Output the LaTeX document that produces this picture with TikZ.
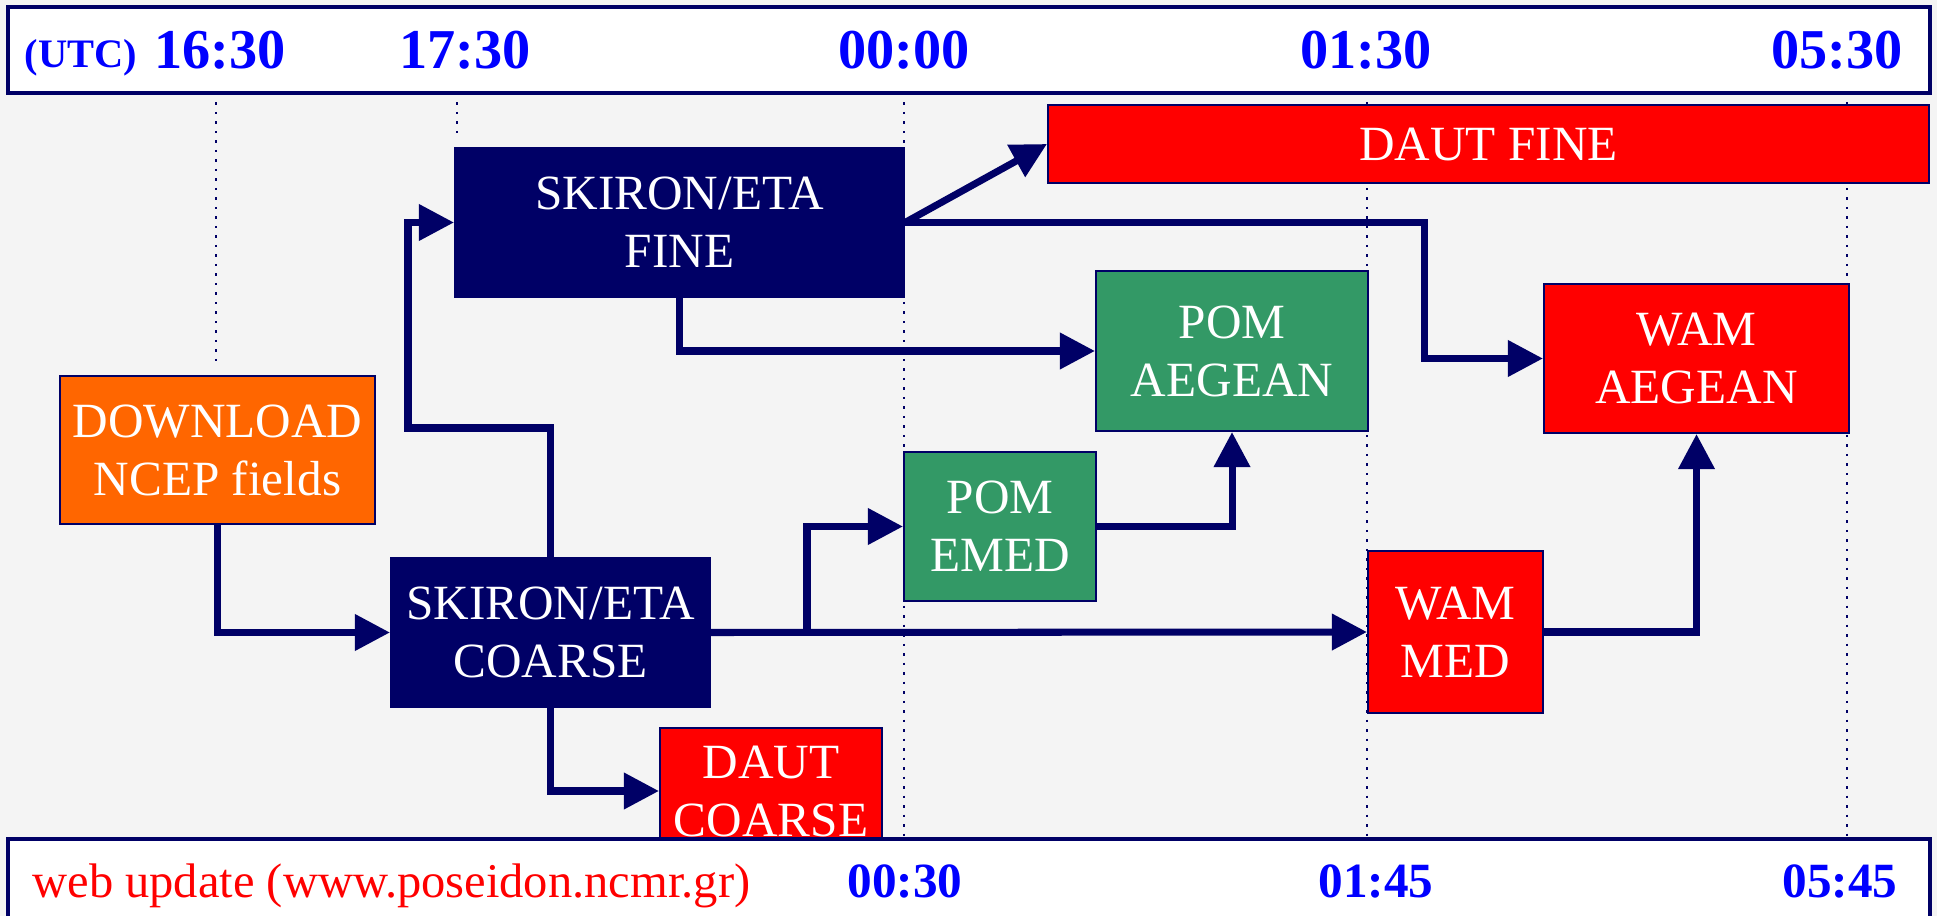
\documentclass[tikz,border=0pt]{standalone}
\usepackage{fontspec}
\setmainfont{Liberation Serif}
\usetikzlibrary{arrows.meta}
\usetikzlibrary{calc}
\definecolor{deepnavy}{HTML}{000066}
\definecolor{boxred}{HTML}{FF0000}
\definecolor{boxgreen}{HTML}{339966}
\definecolor{boxorange}{HTML}{FF6600}
\definecolor{timeblue}{HTML}{0000FF}
\definecolor{panelgray}{HTML}{F4F4F4}
\tikzstyle{box}=[rectangle,draw=deepnavy,line width=0.6pt,text=white,align=center,inner sep=0pt,font=\fontsize{14}{16.5}\selectfont]
\tikzstyle{edge} = [draw,deepnavy,line width=2pt,-{Triangle[length=10pt,width=10pt]}]
\tikzstyle{timeline} = [draw,deepnavy,dotted,line width=0.7pt]
\tikzstyle{hour} = [text=timeblue,anchor=base,font=\bfseries\fontsize{16}{18}\selectfont]
\tikzstyle{webhour} = [text=timeblue,anchor=base,font=\bfseries\fontsize{14}{16}\selectfont]

\begin{document}
\begin{tikzpicture}[x=0.01cm,y=-0.01cm]
\useasboundingbox (0,0) rectangle (1937,916);
\clip (0,0) rectangle (1937,916);
\fill[panelgray] (0,0) rectangle (1937,916);

%time bar
    \path[draw=deepnavy,fill=white,line width=1pt] (8,7) rectangle (1930,93);
    \node[hour,font=\bfseries\fontsize{11.5}{13}\selectfont] (utc) at (81,68) {(UTC)};
    \foreach \x/\t/\n in {{220/16:30/a}, {465/17:30/b}, {904/00:00/c}, {1366/01:30/d}, {1837/05:30/e}}
        \node[hour] (top\n) at (\x,69) {\t};

    \foreach \x/\yend in {216/361, 457/133, 904/840, 1367/840, 1847/840}
        \path[timeline] (\x,93) -- (\x,\yend);

%runs
    \foreach \pos/\name/\w/\h/\label in {{(679.5,222.5)/skfine/449/149/{SKIRON/ETA\\FINE}}, {(550.5,632.5)/skcoarse/319/149/{SKIRON/ETA\\COARSE}}}
        \node[box,fill=deepnavy,minimum width=\w*0.01cm,minimum height=\h*0.01cm] (\name) at \pos {\label};

    \node[box,fill=boxorange,minimum width=315*0.01cm,minimum height=148*0.01cm] (dl) at (217.5,450) {DOWNLOAD\\NCEP fields};

    \foreach \pos/\name/\w/\h/\label in {{(1232,351)/pomaeg/272/160/{POM\\AEGEAN}}, {(1000,526.5)/pomemed/192/149/{POM\\EMED}}}
        \node[box,fill=boxgreen,minimum width=\w*0.01cm,minimum height=\h*0.01cm] (\name) at \pos {\label};

    \foreach \pos/\name/\w/\h/\label in {{(1488.5,144)/dautfine/881/78/{DAUT FINE}}, {(771,791)/dautcoarse/222/126/{DAUT\\COARSE}}, {(1696.5,358.5)/wamaeg/305/149/{WAM\\AEGEAN}}, {(1455.5,632)/wammed/175/162/{WAM\\MED}}}
        \node[box,fill=boxred,minimum width=\w*0.01cm,minimum height=\h*0.01cm] (\name) at \pos {\label};

    % Connect runs
    \coordinate (up) at (408,428);
    \coordinate (split) at (807,632.5);
    \coordinate (over) at (1424,300);

   \foreach \source/ \dest in {dl/skcoarse, skcoarse/dautcoarse, skfine/pomaeg}
          \path[edge] (\source.south) |- (\dest.west);
   \foreach \source/ \dest in {pomemed/pomaeg, wammed/wamaeg}
          \path[edge] (\source.east) -| (\dest.south);

    \path[edge] (skcoarse.north) |- (up) |- (skfine.west);
    \path[edge] (skcoarse.east) -- (wammed.west);
    \path[edge] (split) |- (pomemed.west);
    \path[edge] (skfine.east) -- (dautfine.west);
    \path[edge] (skfine.east) -| (over) |- (wamaeg.west);

%web update bar
    \path[draw=deepnavy,fill=white,line width=1pt] (8,839) rectangle (1930,940);
    \node[text=red,anchor=base west,font=\fontsize{13.8}{16}\selectfont] (web) at (20,897) {web update (www.poseidon.ncmr.gr)};
    \foreach \x/\t/\n in {{905/00:30/a}, {1376/01:45/b}, {1840/05:45/c}}
        \node[webhour] (bot\n) at (\x,897) {\t};

\end{tikzpicture}
\end{document}
